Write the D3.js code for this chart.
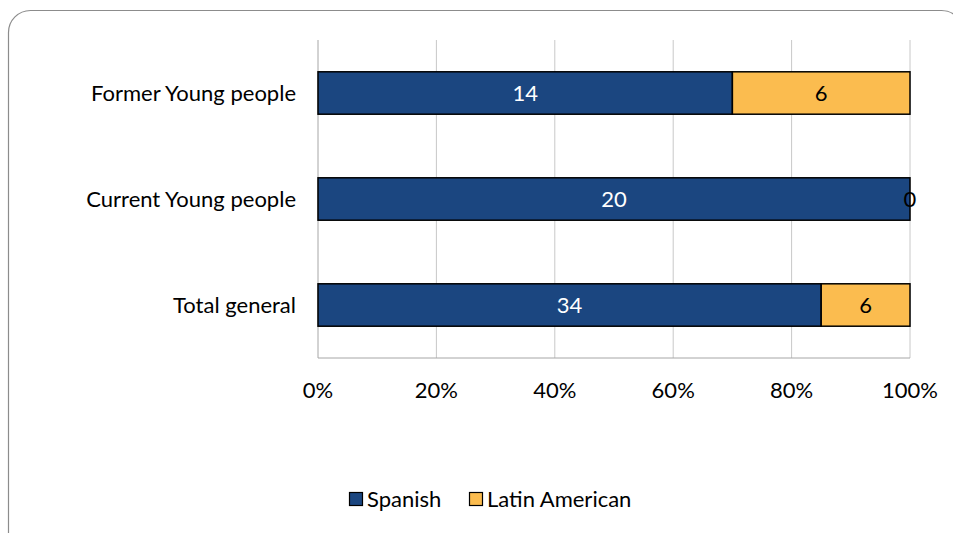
<!DOCTYPE html>
<html>
<head>
<meta charset="utf-8">
<script src="https://cdn.jsdelivr.net/npm/d3@7"></script>
<style>
  html, body { margin: 0; padding: 0; background: #fff; }
  svg { display: block; font-family: Lato, "Open Sans", sans-serif; }
</style>
</head>
<body>
<div id="chart"></div>
<script>
// Chart data
const categories = ["Former Young people", "Current Young people", "Total general"];
const spanish = [14, 20, 34];
const latinAmerican = [6, 0, 6];
const seriesNames = ["Spanish", "Latin American"];
const tickValues = [0, 0.2, 0.4, 0.6, 0.8, 1];

const width = 953;
const height = 533;
const margin = { top: 40, right: 43, bottom: 175, left: 318 };
const fontSize = 22;

const colors = { "Spanish": "#1b4680", "Latin American": "#fbbc4f" };

const svg = d3.select("#chart").append("svg")
    .attr("width", width)
    .attr("height", height);

// Chart frame (rounded, runs past right/bottom edge)
svg.append("rect")
    .attr("x", 8.5)
    .attr("y", 10.5)
    .attr("width", 955)
    .attr("height", 560)
    .attr("rx", 22)
    .attr("fill", "none")
    .attr("stroke", "#8c8c8c")
    .attr("stroke-width", 1.2);

const x = d3.scaleLinear()
    .domain([0, 1])
    .range([margin.left, width - margin.right]);

const y = d3.scaleBand()
    .domain(categories)
    .range([margin.top, height - margin.bottom])
    .paddingInner(0.6)
    .paddingOuter(0.3);

// Gridlines
svg.append("g")
    .selectAll("line")
    .data(tickValues.slice(1))
    .join("line")
    .attr("x1", d => x(d))
    .attr("x2", d => x(d))
    .attr("y1", margin.top)
    .attr("y2", height - margin.bottom)
    .attr("stroke", "#c8c8c8")
    .attr("stroke-width", 1);

// Axis lines
svg.append("line")
    .attr("x1", x(0)).attr("x2", x(0))
    .attr("y1", margin.top).attr("y2", height - margin.bottom)
    .attr("stroke", "#a6a6a6");
svg.append("line")
    .attr("x1", x(0)).attr("x2", x(1))
    .attr("y1", height - margin.bottom).attr("y2", height - margin.bottom)
    .attr("stroke", "#a6a6a6");

// X tick labels
svg.append("g")
    .selectAll("text")
    .data(tickValues)
    .join("text")
    .attr("x", d => x(d))
    .attr("y", height - margin.bottom + 40)
    .attr("text-anchor", "middle")
    .attr("font-size", fontSize)
    .attr("fill", "#000")
    .text(d3.format(".0%"));

// Category labels
svg.append("g")
    .selectAll("text")
    .data(categories)
    .join("text")
    .attr("x", margin.left - 22)
    .attr("y", d => y(d) + y.bandwidth() / 2)
    .attr("dy", "0.35em")
    .attr("text-anchor", "end")
    .attr("font-size", fontSize)
    .attr("fill", "#000")
    .text(d => d);

// Stacked 100% bars
const rows = categories.map((c, i) => {
    const total = spanish[i] + latinAmerican[i];
    return {
        cat: c,
        segs: [
            { name: "Spanish", value: spanish[i], x0: 0, x1: spanish[i] / total },
            { name: "Latin American", value: latinAmerican[i], x0: spanish[i] / total, x1: 1 }
        ]
    };
});

rows.forEach(r => {
    const g = svg.append("g");
    g.selectAll("rect")
        .data(r.segs)
        .join("rect")
        .attr("x", d => x(d.x0))
        .attr("y", y(r.cat))
        .attr("width", d => x(d.x1) - x(d.x0))
        .attr("height", y.bandwidth())
        .attr("fill", d => colors[d.name])
        .attr("stroke", "#000")
        .attr("stroke-width", 1.5);

    g.selectAll("text")
        .data(r.segs)
        .join("text")
        .attr("x", d => (x(d.x0) + x(d.x1)) / 2)
        .attr("y", y(r.cat) + y.bandwidth() / 2)
        .attr("dy", "0.35em")
        .attr("text-anchor", "middle")
        .attr("font-size", fontSize)
        .attr("fill", d => d.name === "Spanish" ? "#fff" : "#000")
        .text(d => d.value);
});

// Legend
const legend = svg.append("g")
    .attr("transform", `translate(349, 490)`);
const legendX = [0, 120];
seriesNames.forEach((name, i) => {
    const g = legend.append("g").attr("transform", `translate(${legendX[i]}, 0)`);
    g.append("rect")
        .attr("x", 0.5).attr("y", 2.5)
        .attr("width", 13).attr("height", 13)
        .attr("fill", colors[name])
        .attr("stroke", "#000")
        .attr("stroke-width", 1.2);
    g.append("text")
        .attr("x", 18)
        .attr("y", 9)
        .attr("dy", "0.35em")
        .attr("font-size", fontSize)
        .attr("fill", "#000")
        .text(name);
});
</script>
</body>
</html>
